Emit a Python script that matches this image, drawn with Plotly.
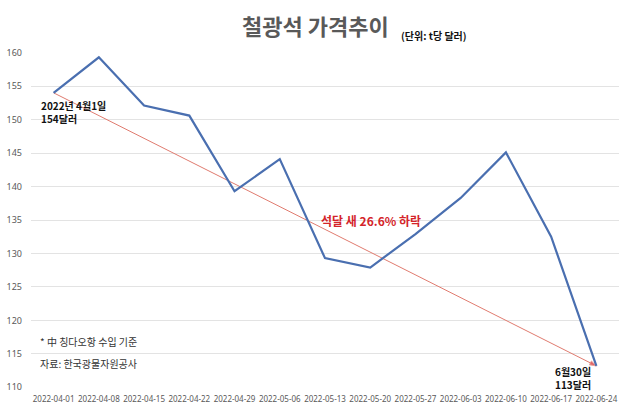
import plotly.graph_objects as go

dates = ["2022-04-01", "2022-04-08", "2022-04-15", "2022-04-22", "2022-04-29", "2022-05-06",
         "2022-05-13", "2022-05-20", "2022-05-27", "2022-06-03", "2022-06-10", "2022-06-17",
         "2022-06-24"]
prices = [154, 159.3, 152.1, 150.6, 139.3, 144.1, 129.3, 127.9, 132.9, 138.3, 145.1, 132.5, 113.2]
y_ticks = [110, 115, 120, 125, 130, 135, 140, 145, 150, 155, 160]

FONT = "Noto Sans CJK KR"
W, H, L, R, T, B = 630, 409, 31, 11, 52, 21
pw, ph = W - L - R, H - T - B


def px2paper(px, py):
    return (px - L) / pw, 1 - (py - T) / ph


fig = go.Figure()
# trend line from first to last point
fig.add_trace(go.Scatter(
    x=[dates[0], dates[-1]], y=[prices[0], prices[-1]],
    mode="lines+markers",
    line=dict(color="#e07b6f", width=1),
    marker=dict(symbol=["circle", "arrow"], size=[0, 7], color="#d4242a", angleref="previous"),
    hoverinfo="skip", showlegend=False,
))
fig.add_trace(go.Scatter(
    x=dates, y=prices, mode="lines",
    line=dict(color="#4a6fb0", width=2.2),
    showlegend=False,
))

fig.add_annotation(x=dates[0], y=prices[0], text="2022년 4월1일<br>154달러", showarrow=False,
                   xanchor="left", yanchor="top", xshift=-15, yshift=-3, align="left",
                   font=dict(family=FONT, size=10, color="#111111", weight="bold"))
fig.add_annotation(x=dates[-1], y=prices[-1], text="6월30일<br>113달러", showarrow=False,
                   xanchor="right", yanchor="top", xshift=-3, yshift=4, align="center",
                   font=dict(family=FONT, size=10, color="#111111", weight="bold"))

paper_texts = [
    ("석달 새 26.6% 하락", 371, 220, 12, "#d4242a", True, "center"),
    ("철광석 가격추이", 315, 25, 22, "#595959", True, "center"),
    ("(단위: t당 달러)", 434, 36, 10, "#111111", True, "center"),
    ("* 中 칭다오항 수입 기준", 38, 341, 10, "#333333", False, "left"),
    ("자료: 한국광물자원공사", 38, 363, 10, "#333333", False, "left"),
]
for t, x, y, s, c, b, xa in paper_texts:
    xp, yp = px2paper(x, y)
    fig.add_annotation(text=t, x=xp, y=yp, xref="paper", yref="paper", showarrow=False,
                       xanchor=xa, yanchor="middle",
                       font=dict(family=FONT, size=s, color=c, weight="bold" if b else "normal"))

fig.update_layout(
    width=W, height=H,
    margin=dict(l=L, r=R, t=T, b=B, autoexpand=False),
    plot_bgcolor="white", paper_bgcolor="white",
    font=dict(family=FONT, size=9, color="#595959"),
    xaxis=dict(type="category", categoryorder="array", categoryarray=dates, showgrid=False,
               tickfont=dict(family="Noto Sans", size=8, color="#595959"), tickangle=0,
               ticks="", showline=False, zeroline=False, range=[-0.5, 12.5], automargin=False,
               ticklabelstandoff=5),
    yaxis=dict(range=[109.9, 160.1], tickvals=y_ticks, showgrid=True, gridcolor="#e3e3e3",
               gridwidth=1, zeroline=False, tickfont=dict(family="Noto Sans", size=9, color="#595959"),
               ticks="", automargin=False, ticklabelstandoff=8),
)

fig.write_html("out.html", config={"displayModeBar": False},
               post_script="document.body.style.margin='0';document.body.style.overflow='hidden';")
